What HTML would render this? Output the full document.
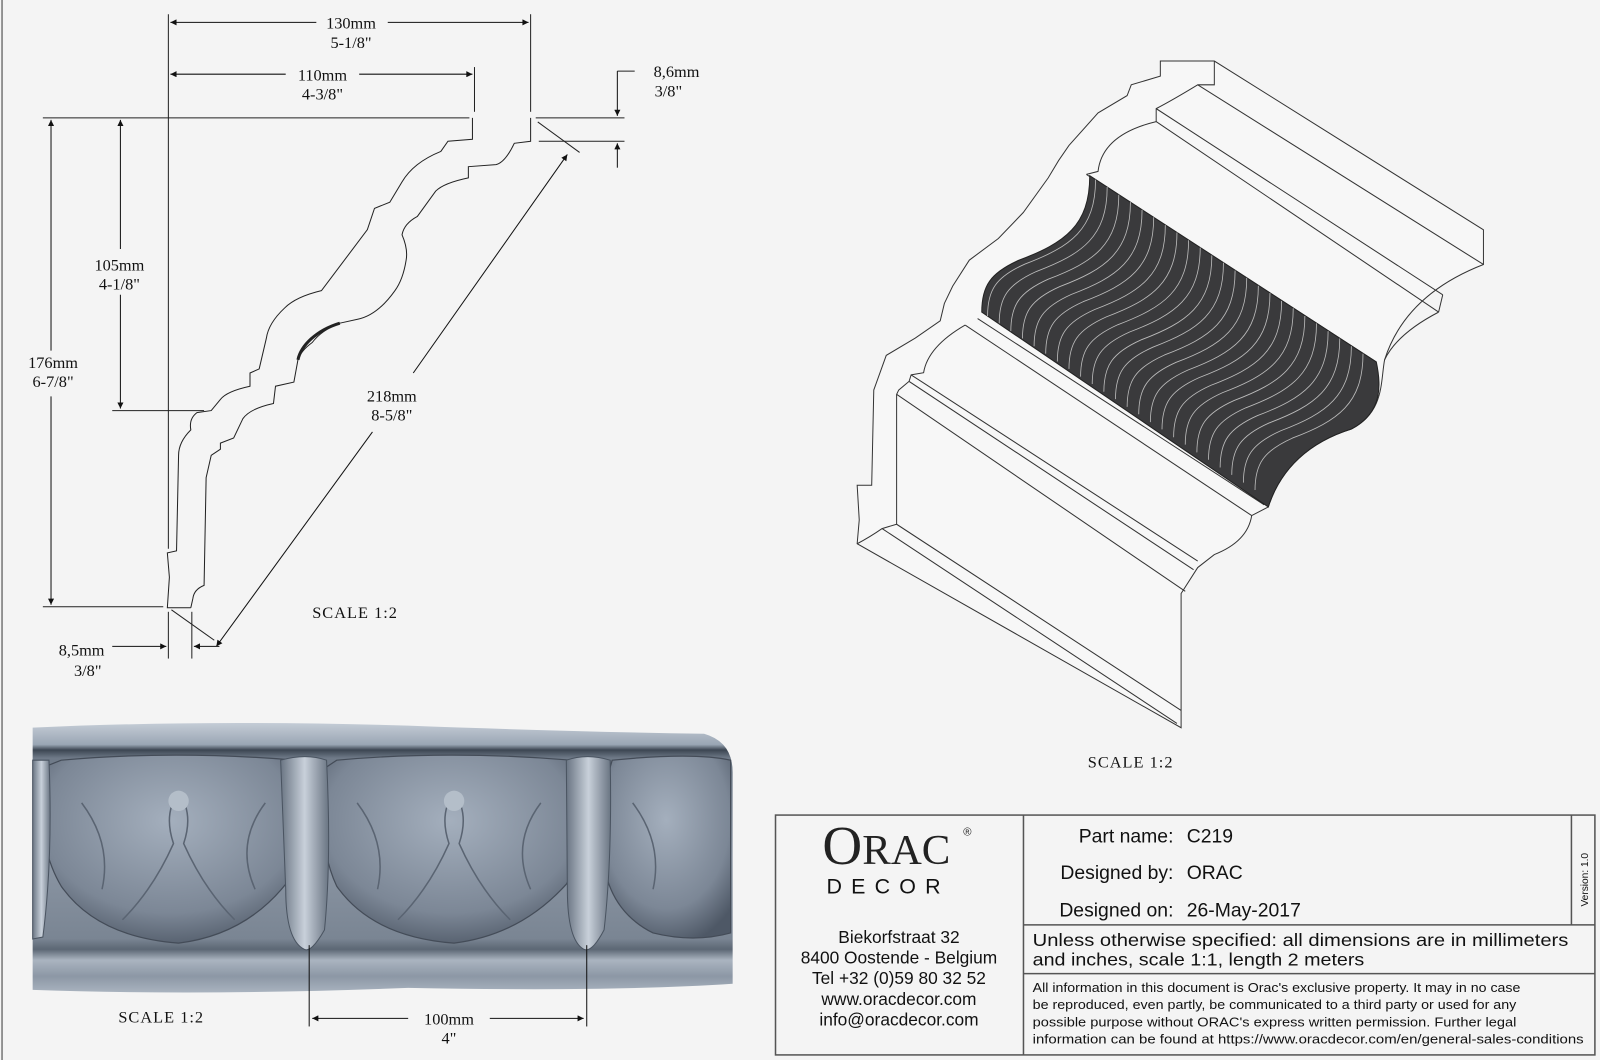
<!DOCTYPE html>
<html><head><meta charset="utf-8"><style>
html,body{margin:0;padding:0;background:#f4f4f4;}
svg{display:block}
.s{font-family:"Liberation Serif",serif;font-size:16px;fill:#111}
.a{font-family:"Liberation Sans",sans-serif;fill:#111}
</style></head><body>
<svg width="1600" height="1060" viewBox="0 0 1568 1043" preserveAspectRatio="none" xmlns="http://www.w3.org/2000/svg">
<defs>
<marker id="ar" viewBox="0 0 10 10" refX="10" refY="5" markerWidth="12" markerHeight="6" markerUnits="userSpaceOnUse" orient="auto-start-reverse"><path d="M0,0 L10,5 L0,10 z" fill="#111"/></marker>
<linearGradient id="bg" x1="0" y1="0" x2="0" y2="1">
<stop offset="0" stop-color="#c4ccd6"/><stop offset="0.08" stop-color="#9aa6b4"/><stop offset="0.1" stop-color="#3c4652"/><stop offset="0.13" stop-color="#6f7a88"/><stop offset="0.5" stop-color="#8b96a4"/><stop offset="0.8" stop-color="#7a8593"/><stop offset="0.84" stop-color="#5c6774"/><stop offset="0.88" stop-color="#aab4c0"/><stop offset="0.94" stop-color="#8c97a5"/><stop offset="1" stop-color="#a9b3bf"/></linearGradient>
<radialGradient id="lf" cx="0.5" cy="0.35" r="0.7"><stop offset="0" stop-color="#a4afbd"/><stop offset="0.7" stop-color="#7c8796"/><stop offset="1" stop-color="#4e5866"/></radialGradient>
<linearGradient id="pl" x1="0" y1="0" x2="1" y2="0"><stop offset="0" stop-color="#6a7583"/><stop offset="0.5" stop-color="#c8d0da"/><stop offset="1" stop-color="#6a7583"/></linearGradient>
<path id="fl" d="M620,285 C620,400 560,440 450,480 C380,510 360,540 360,600" fill="none"/>
</defs>
<rect x="0" y="0" width="1568" height="1043" fill="#f4f4f4"/>
<rect x="2" y="-2" width="1580" height="1060" fill="none" stroke="#777" stroke-width="1.5"/>

<g fill="none" stroke="#222" stroke-width="1">
<path d="M463,116 L463,137 L439,139 L432,149 Q405,160 394,179 L382,199 L367,205 L360,226 L315,286 Q290,292 279,303 Q263,318 261,333 L254,363 L245,367 L245,380 Q222,385 216,393 L207,404 L193,406 Q185,412 187,423 Q175,435 175,448 L173,542 L164,544 L166,568 L164,598 L187,598"/>
<path d="M520,116 L520,139 L504,141 Q495,160 486,162 L459,164 L459,175 Q435,180 427,188 L409,213 Q396,220 394,231 Q400,245 398,256 Q395,275 387,286 Q370,310 351,314 L333,318 Q315,325 306,337 Q295,345 292,354 L288,376 L270,380 L268,397 Q245,402 238,412 L229,431 L216,436 L216,442 L207,448 L202,470 L200,576 Q190,580 189,589 L187,598"/>
<path d="M333,318 C310,325 295,340 292,354" stroke-width="3"/>
<line x1="165" y1="14" x2="165" y2="540"/>
<line x1="520" y1="14" x2="520" y2="110"/>
<line x1="465" y1="66" x2="465" y2="110"/>
<line x1="42" y1="116" x2="460" y2="116"/>
<line x1="110" y1="404" x2="200" y2="404"/>
<line x1="42" y1="597" x2="160" y2="597"/>
<line x1="525" y1="116" x2="612" y2="116"/>
<line x1="528" y1="139" x2="612" y2="139"/>
<line x1="605" y1="70" x2="622" y2="70"/>
<line x1="527" y1="120" x2="568" y2="150"/>
<line x1="168" y1="600" x2="210" y2="630"/>
<line x1="165" y1="602" x2="165" y2="648"/>
<line x1="188" y1="602" x2="188" y2="648"/>
</g>
<g stroke="#111" stroke-width="1" fill="none">
<line x1="167" y1="22" x2="310" y2="22" marker-start="url(#ar)"/><line x1="380" y1="22" x2="518" y2="22" marker-end="url(#ar)"/>
<line x1="167" y1="73" x2="280" y2="73" marker-start="url(#ar)"/><line x1="352" y1="73" x2="463" y2="73" marker-end="url(#ar)"/>
<line x1="50" y1="118" x2="50" y2="345" marker-start="url(#ar)"/><line x1="50" y1="390" x2="50" y2="595" marker-end="url(#ar)"/>
<line x1="118" y1="118" x2="118" y2="245" marker-start="url(#ar)"/><line x1="118" y1="290" x2="118" y2="402" marker-end="url(#ar)"/>
<line x1="605" y1="70" x2="605" y2="114" marker-end="url(#ar)"/>
<line x1="605" y1="165" x2="605" y2="141" marker-end="url(#ar)"/>
<line x1="556" y1="152" x2="405" y2="367" marker-start="url(#ar)"/><line x1="365" y1="425" x2="212" y2="636" marker-end="url(#ar)"/>
<line x1="110" y1="636" x2="163" y2="636" marker-end="url(#ar)"/>
<line x1="215" y1="636" x2="190" y2="636" marker-end="url(#ar)"/>
</g>
<g class="s" text-anchor="middle">
<text x="344" y="28">130mm</text><text x="344" y="47">5-1/8"</text>
<text x="316" y="79">110mm</text><text x="316" y="98">4-3/8"</text>
<text x="663" y="76">8,6mm</text><text x="655" y="95">3/8"</text>
<text x="117" y="266">105mm</text><text x="117" y="285">4-1/8"</text>
<text x="52" y="362">176mm</text><text x="52" y="381">6-7/8"</text>
<text x="384" y="395">218mm</text><text x="384" y="414">8-5/8"</text>
<text x="80" y="645">8,5mm</text><text x="86" y="665">3/8"</text>
<text x="348" y="608" letter-spacing="1">SCALE  1:2</text>
<text x="1108" y="755" letter-spacing="1">SCALE  1:2</text>
<text x="158" y="1006" letter-spacing="1">SCALE  1:2</text>
<text x="440" y="1008">100mm</text><text x="440" y="1027">4"</text>
</g>

<g transform="translate(815.6,51.5) scale(0.407,0.426)" fill="none" stroke="#333" stroke-width="2.4">
<path fill="#f7f7f7" d="M920,20 L790,20 L790,55 L720,75 L710,100 L640,140 L570,215 L545,250 L520,290 L460,370 L400,430 L330,480 L290,540 L270,580 L260,620 L200,660 L130,700 L100,780 L95,1000 L60,1000 L65,1080 L60,1135 L840,1560 L840,1250 L880,1190 L920,1160 Q1000,1130 1010,1070 L1050,1050 C1080,960 1150,900 1250,870 C1330,830 1320,760 1330,710 Q1380,560 1568,490 L1568,410 Z"/>
<line x1="880" y1="75" x2="1568" y2="490"/>
<path d="M920,20 L920,75 L880,75 Q820,110 780,130 L780,160 Q650,190 640,275 L612,282"/>
<line x1="780" y1="130" x2="1470" y2="560"/>
<line x1="780" y1="160" x2="1460" y2="600"/>
<line x1="1470" y1="560" x2="1460" y2="600"/>
<path d="M1460,600 Q1360,650 1330,710"/>
<line x1="612" y1="282" x2="1310" y2="715"/>
<line x1="320" y1="630" x2="1010" y2="1070"/>
<line x1="350" y1="615" x2="1040" y2="1045"/>
<path d="M320,630 Q230,680 220,740 L190,745 L185,760 L160,780 L155,790 L155,1090 L120,1100 Q90,1120 60,1135"/>
<line x1="190" y1="745" x2="880" y2="1175"/>
<line x1="185" y1="760" x2="870" y2="1195"/>
<line x1="155" y1="790" x2="850" y2="1245"/>
<line x1="155" y1="1090" x2="840" y2="1520"/>
<line x1="120" y1="1100" x2="830" y2="1550"/>
<path d="M620,285 C620,400 560,440 450,480 C380,510 360,540 360,600 L1050,1050 C1080,960 1150,900 1250,870 C1330,830 1320,760 1310,715 Z" fill="#3a3a3c" stroke="#222"/>
<g stroke="#bbb" stroke-width="2">
<use href="#fl" transform="translate(14,9)"/><use href="#fl" transform="translate(42,26)"/><use href="#fl" transform="translate(70,44)"/><use href="#fl" transform="translate(98,61)"/><use href="#fl" transform="translate(126,79)"/><use href="#fl" transform="translate(154,96)"/><use href="#fl" transform="translate(182,114)"/><use href="#fl" transform="translate(210,131)"/><use href="#fl" transform="translate(238,149)"/><use href="#fl" transform="translate(266,166)"/><use href="#fl" transform="translate(294,184)"/><use href="#fl" transform="translate(322,201)"/><use href="#fl" transform="translate(350,219)"/><use href="#fl" transform="translate(378,236)"/><use href="#fl" transform="translate(406,254)"/><use href="#fl" transform="translate(434,271)"/><use href="#fl" transform="translate(462,289)"/><use href="#fl" transform="translate(490,306)"/><use href="#fl" transform="translate(518,324)"/><use href="#fl" transform="translate(546,341)"/><use href="#fl" transform="translate(574,359)"/><use href="#fl" transform="translate(602,376)"/><use href="#fl" transform="translate(630,394)"/><use href="#fl" transform="translate(658,411)"/>
</g>
</g>

<g>
<path d="M32,716 Q200,708 400,714 Q560,720 690,722 Q718,730 718,760 L718,968 Q600,976 400,972 Q200,980 32,974 Z" fill="url(#bg)"/>
<g fill="url(#lf)" stroke="#444c58" stroke-width="1.2">
<path d="M60,748 Q170,738 290,748 Q300,840 280,870 Q240,920 175,928 Q95,922 60,872 Q35,830 40,756 Z"/>
<path d="M330,748 Q440,738 560,748 Q575,840 555,870 Q510,920 445,928 Q365,922 330,872 Q310,830 318,756 Z"/>
<path d="M600,748 Q680,740 716,748 L716,918 Q680,928 640,918 Q600,898 592,852 Q585,795 600,748 Z"/>
</g>
<g fill="url(#pl)" stroke="#4a5461" stroke-width="1">
<path d="M275,748 Q300,741 320,748 Q325,845 318,915 Q305,938 298,934 Q280,925 280,875 Z"/>
<path d="M555,748 Q575,741 598,748 Q600,845 592,915 Q580,938 572,934 Q556,925 556,875 Z"/>
<path d="M32,748 L48,748 Q52,845 42,922 L32,924 Z"/>
</g>
<g fill="none" stroke="#5a6472" stroke-width="1.5">
<path d="M175,780 Q160,800 170,830 Q150,875 120,905 M175,780 Q190,800 180,830 Q200,875 230,905"/>
<path d="M445,780 Q430,800 440,830 Q420,875 390,905 M445,780 Q460,800 450,830 Q470,875 500,905"/>
<path d="M80,790 Q110,830 100,875 M260,790 Q230,830 250,875 M350,790 Q380,830 370,875 M530,790 Q500,830 520,875 M620,790 Q650,830 640,875"/>
</g>
<circle cx="175" cy="788" r="10" fill="#b4bec9"/><circle cx="445" cy="788" r="10" fill="#b4bec9"/>
</g>
<g stroke="#111" stroke-width="1" fill="none">
<line x1="303" y1="930" x2="303" y2="1010"/><line x1="575" y1="930" x2="575" y2="1010"/>
<line x1="306" y1="1002" x2="400" y2="1002" marker-start="url(#ar)"/><line x1="480" y1="1002" x2="572" y2="1002" marker-end="url(#ar)"/>
</g>

<g fill="none" stroke="#555" stroke-width="1.5">
<rect x="760" y="802" width="803" height="236"/>
<line x1="1003" y1="802" x2="1003" y2="1038"/>
<line x1="1003" y1="910" x2="1563" y2="910"/>
<line x1="1003" y1="958" x2="1563" y2="958"/>
<line x1="1540" y1="802" x2="1540" y2="910"/>
</g>
<text x="806" y="850" font-family="Liberation Serif,serif" fill="#222"><tspan font-size="54">O</tspan><tspan font-size="42">RAC</tspan></text>
<text x="944" y="822" font-family="Liberation Sans,sans-serif" font-size="11" fill="#222">®</text>
<text x="810" y="879" class="a" font-size="21" letter-spacing="9">DECOR</text>
<g class="a" font-size="17" text-anchor="middle">
<text x="881" y="928">Biekorfstraat 32</text>
<text x="881" y="948">8400 Oostende - Belgium</text>
<text x="881" y="968">Tel  +32 (0)59 80 32 52</text>
<text x="881" y="989">www.oracdecor.com</text>
<text x="881" y="1009">info@oracdecor.com</text>
</g>
<g class="a" font-size="19">
<text x="1150" y="829" text-anchor="end">Part name:</text><text x="1163" y="829">C219</text>
<text x="1150" y="865" text-anchor="end">Designed by:</text><text x="1163" y="865">ORAC</text>
<text x="1150" y="902" text-anchor="end">Designed on:</text><text x="1163" y="902">26-May-2017</text>
</g>
<g class="a" font-size="17">
<text x="1012" y="931" textLength="525" lengthAdjust="spacingAndGlyphs">Unless otherwise specified: all dimensions are in millimeters</text>
<text x="1012" y="950" textLength="325" lengthAdjust="spacingAndGlyphs">and inches, scale 1:1, length 2 meters</text>
</g>
<g class="a" font-size="12.5">
<text x="1012" y="976" textLength="478" lengthAdjust="spacingAndGlyphs">All information in this document is Orac's exclusive property.  It may in no case</text>
<text x="1012" y="993" textLength="474" lengthAdjust="spacingAndGlyphs">be reproduced, even partly, be communicated to a third party or used for any</text>
<text x="1012" y="1010" textLength="474" lengthAdjust="spacingAndGlyphs">possible purpose without ORAC's express written permission. Further legal</text>
<text x="1012" y="1027" textLength="540" lengthAdjust="spacingAndGlyphs">information can be found at https://www.oracdecor.com/en/general-sales-conditions</text>
</g>
<text transform="translate(1556,892) rotate(-90)" class="a" font-size="10">Version: 1.0</text>
</svg>
</body></html>
